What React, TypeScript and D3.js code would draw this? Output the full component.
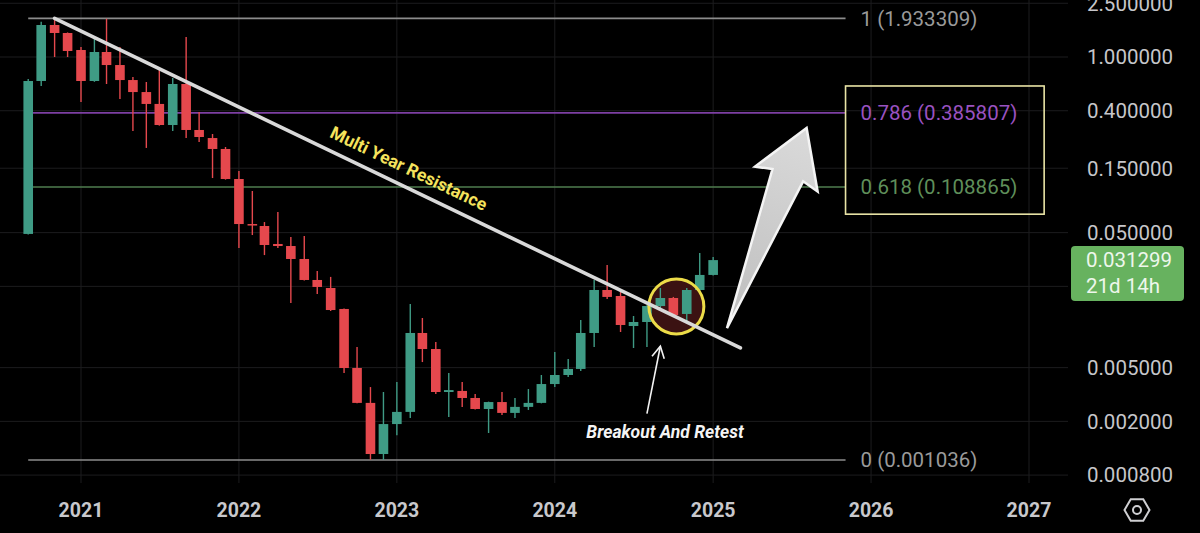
import React from 'react';
import * as d3 from 'd3';

const width = 1200;
const height = 533;

// monthly candles, Sep 2020 .. Jan 2025
const months = [
  '2020-09', '2020-10', '2020-11', '2020-12',
  '2021-01', '2021-02', '2021-03', '2021-04', '2021-05', '2021-06', '2021-07', '2021-08', '2021-09', '2021-10', '2021-11', '2021-12',
  '2022-01', '2022-02', '2022-03', '2022-04', '2022-05', '2022-06', '2022-07', '2022-08', '2022-09', '2022-10', '2022-11', '2022-12',
  '2023-01', '2023-02', '2023-03', '2023-04', '2023-05', '2023-06', '2023-07', '2023-08', '2023-09', '2023-10', '2023-11', '2023-12',
  '2024-01', '2024-02', '2024-03', '2024-04', '2024-05', '2024-06', '2024-07', '2024-08', '2024-09', '2024-10', '2024-11', '2024-12',
  '2025-01',
];
const open = [
  0.0489, 0.664, 1.726, 1.506,
  1.127, 0.664, 1.089, 0.872, 0.675, 0.55, 0.449, 0.3135, 0.631, 0.288, 0.251, 0.2083,
  0.1248, 0.0579, 0.056, 0.0412, 0.0398, 0.0319, 0.0223, 0.01945, 0.0136, 0.00497, 0.00274, 0.001146,
  0.00191, 0.00235, 0.00903, 0.00687, 0.0033, 0.00336, 0.00298, 0.00247, 0.00278, 0.00231, 0.00256, 0.00274,
  0.00378, 0.00441, 0.00489, 0.00903, 0.0188, 0.01697, 0.01017, 0.01089, 0.0143, 0.0164, 0.01249, 0.0188,
  0.0243,
];
const high = [
  0.687, 1.826, 1.933309, 1.52,
  1.186, 1.383, 1.92, 1.186, 0.711, 0.653, 0.843, 0.699, 1.406, 0.391, 0.269, 0.2154,
  0.1431, 0.1017, 0.0599, 0.0711, 0.0464, 0.0472, 0.026, 0.0235, 0.0137, 0.00711, 0.00359, 0.0033,
  0.00391, 0.0148, 0.01166, 0.00774, 0.00456, 0.00391, 0.00319, 0.0028, 0.0033, 0.00298, 0.00347, 0.00441,
  0.00653, 0.00579, 0.01127, 0.0223, 0.0288, 0.0191, 0.01206, 0.0145, 0.01945, 0.0167, 0.01945, 0.0353,
  0.033,
];
const low = [
  0.0485, 0.61, 1.0, 1.0,
  0.464, 0.655, 0.631, 0.489, 0.283, 0.212, 0.31, 0.283, 0.251, 0.2346, 0.1269, 0.1235,
  0.0385, 0.048, 0.0341, 0.0385, 0.01506, 0.0221, 0.01756, 0.01314, 0.00456, 0.00272, 0.00104, 0.001036,
  0.00158, 0.00212, 0.0055, 0.00319, 0.00215, 0.00256, 0.00245, 0.00164, 0.00223, 0.00212, 0.00243, 0.00272,
  0.00359, 0.00426, 0.00472, 0.00711, 0.0161, 0.00918, 0.00699, 0.00711, 0.01382, 0.01186, 0.01071, 0.0186,
  0.0241,
];
const close = [
  0.664, 1.726, 1.506, 1.108,
  0.664, 1.089, 0.872, 0.675, 0.55, 0.449, 0.3135, 0.631, 0.288, 0.2555, 0.2083, 0.1248,
  0.0579, 0.057, 0.0405, 0.0398, 0.0319, 0.0223, 0.0198, 0.01336, 0.00497, 0.00274, 0.001146, 0.00191,
  0.00235, 0.00903, 0.00687, 0.0033, 0.00341, 0.00298, 0.00247, 0.00278, 0.00231, 0.00256, 0.00274, 0.00378,
  0.00441, 0.00489, 0.00903, 0.0188, 0.0167, 0.01035, 0.01089, 0.0143, 0.0164, 0.01227, 0.0188, 0.0243,
  0.031299,
];

const priceTicks = [2.5, 1, 0.4, 0.15, 0.05, 0.005, 0.002, 0.0008];
const gridValues = [2.5, 1, 0.4, 0.15, 0.05, 0.02, 0.005, 0.002, 0.0008];
const years = [2021, 2022, 2023, 2024, 2025, 2026, 2027];

const fibLevels = ['1', '0.786', '0.618', '0'];
const fibValues = [1.933309, 0.385807, 0.108865, 0.001036];
const fibColors = ['#8c8c8c', '#7d3fa3', '#4f7c4f', '#8c8c8c'];
const fibTextColors = ['#9a9a9a', '#9a52c0', '#5f8f5a', '#9a9a9a'];

const lastPrice = '0.031299';
const countdown = '21d 14h';

const up = '#3f9b85';
const down = '#e5484d';

const parseMonth = d3.timeParse('%Y-%m');
const candles = months.map((m, i) => ({
  date: parseMonth(m) as Date,
  o: open[i],
  h: high[i],
  l: low[i],
  c: close[i],
}));

const x = d3.scaleTime().domain([new Date(2021, 0, 1), new Date(2027, 0, 1)]).range([81, 1029]);
const y = d3.scaleLog().domain([1, 0.001]).range([57, 462]);

const plotRight = 1068;
const plotBottom = 483;

// annotation anchors (date, price)
const resStart = { date: new Date(2020, 10, 1), v: 1.933309 };
const resEnd = { date: new Date(2025, 2, 5), v: 0.007 };
const fibStart = new Date(2020, 8, 1);
const fibEnd = new Date(2025, 10, 3);
const boxEnd = new Date(2027, 1, 5);
const boxTop = 0.61;
const boxBottom = 0.0685;
const circleAt = { date: new Date(2024, 9, 8), v: 0.0142 };
const arrowTail = { date: new Date(2025, 1, 2), v: 0.0098 };
const arrowTip = { date: new Date(2025, 7, 5), v: 0.298 };
const retestFrom = { date: new Date(2024, 7, 1), v: 0.00228 };
const retestTo = { date: new Date(2024, 8, 1), v: 0.0072 };

const font = 'Roboto, "Noto Sans", sans-serif';

const BigArrow = () => {
  const x0 = x(arrowTail.date), y0 = y(arrowTail.v);
  const x1 = x(arrowTip.date), y1 = y(arrowTip.v);
  const len = Math.hypot(x1 - x0, y1 - y0);
  const ux = (x1 - x0) / len, uy = (y1 - y0) / len;
  const nx = -uy, ny = ux;
  const pt = (a: number, n: number) => [x0 + ux * a * len + nx * n, y0 + uy * a * len + ny * n];
  const pts = [
    pt(0, 0),
    pt(0.764, -16.5),
    pt(0.745, -33.7),
    pt(1, 0),
    pt(0.745, 33.7),
    pt(0.764, 16.5),
  ];
  return (
    <g>
      <defs>
        <linearGradient id="arrowFill" x1={x0} y1={y0} x2={x1} y2={y1} gradientUnits="userSpaceOnUse">
          <stop offset="0" stopColor="#bdbdbd" />
          <stop offset="1" stopColor="#dadada" />
        </linearGradient>
      </defs>
      <polygon
        points={pts.map((p) => p.join(',')).join(' ')}
        fill="url(#arrowFill)"
        stroke="#f4f4f4"
        strokeWidth={2.5}
        strokeLinejoin="miter"
      />
    </g>
  );
};

const App = () => {
  const bodyW = 9.6;
  const rx0 = x(resStart.date), ry0 = y(resStart.v);
  const rx1 = x(resEnd.date), ry1 = y(resEnd.v);
  const angle = (Math.atan2(ry1 - ry0, rx1 - rx0) * 180) / Math.PI;
  const t = 0.505;
  const mx = rx0 + (rx1 - rx0) * t;
  const my = ry0 + (ry1 - ry0) * t;

  const last = candles[candles.length - 1];
  const lastY = y(last.c);

  const ax0 = x(retestFrom.date), ay0 = y(retestFrom.v);
  const ax1 = x(retestTo.date), ay1 = y(retestTo.v);
  const aAng = Math.atan2(ay1 - ay0, ax1 - ax0);
  const barb = (da: number) => [ax1 - 13 * Math.cos(aAng + da), ay1 - 13 * Math.sin(aAng + da)];
  const b1 = barb(0.5), b2 = barb(-0.5);

  return (
    <svg
      width={width}
      height={height}
      style={{ position: 'fixed', left: 0, top: 0, background: '#000', display: 'block' }}
      fontFamily={font}
    >
      <rect width={width} height={height} fill="#000" />

      {/* grid */}
      {gridValues.map((v) => (
        <line key={'h' + v} x1={0} x2={plotRight} y1={y(v)} y2={y(v)} stroke="#1c1c1e" strokeWidth={1} />
      ))}
      {years.map((yr) => (
        <line
          key={'v' + yr}
          x1={x(new Date(yr, 0, 1))}
          x2={x(new Date(yr, 0, 1))}
          y1={0}
          y2={plotBottom}
          stroke="#1c1c1e"
          strokeWidth={1}
        />
      ))}

      {/* fib levels */}
      {fibValues.map((v, i) => (
        <g key={'f' + i}>
          <line
            x1={x(fibStart)}
            x2={x(fibEnd)}
            y1={y(v)}
            y2={y(v)}
            stroke={fibColors[i]}
            strokeWidth={1.6}
          />
          <text
            x={x(fibEnd) + 15}
            y={y(v)}
            dy="0.36em"
            fontSize={20.5}
            fill={fibTextColors[i]}
          >
            {`${fibLevels[i]} (${v.toFixed(6)})`}
          </text>
        </g>
      ))}

      {/* yellow box around targets */}
      <rect
        x={x(fibEnd)}
        y={y(boxTop)}
        width={x(boxEnd) - x(fibEnd)}
        height={y(boxBottom) - y(boxTop)}
        fill="none"
        stroke="#e9e4a6"
        strokeWidth={1.6}
      />

      {/* retest circle background */}
      <circle cx={x(circleAt.date)} cy={y(circleAt.v)} r={27.5} fill="#3b1212" />

      {/* candles */}
      {candles.map((d, i) => {
        const cx = x(d.date);
        const col = d.c >= d.o ? up : down;
        const top = y(Math.max(d.o, d.c));
        const bot = y(Math.min(d.o, d.c));
        return (
          <g key={i}>
            <line x1={cx} x2={cx} y1={y(d.h)} y2={y(d.l)} stroke={col} strokeWidth={1.4} />
            <rect x={cx - bodyW / 2} y={top} width={bodyW} height={Math.max(1.5, bot - top)} fill={col} />
          </g>
        );
      })}

      {/* retest circle outline */}
      <circle cx={x(circleAt.date)} cy={y(circleAt.v)} r={27.5} fill="none" stroke="#ecdc48" strokeWidth={3} />

      {/* resistance line */}
      <line x1={rx0} y1={ry0} x2={rx1} y2={ry1} stroke="#d9d9d9" strokeWidth={3.6} strokeLinecap="round" />
      <text
        transform={`translate(${mx},${my}) rotate(${angle}) translate(0,-12)`}
        textAnchor="middle"
        fontSize={17.5}
        fontWeight="bold"
        fill="#f5e35c"
      >
        Multi Year Resistance
      </text>

      {/* big arrow */}
      <BigArrow />

      {/* breakout arrow */}
      <line x1={ax0} y1={ay0} x2={ax1} y2={ay1} stroke="#f2f2f2" strokeWidth={1.6} />
      <polyline
        points={`${b1[0]},${b1[1]} ${ax1},${ay1} ${b2[0]},${b2[1]}`}
        fill="none"
        stroke="#f2f2f2"
        strokeWidth={1.6}
      />
      <text x={665} y={438} textAnchor="middle" fontSize={17.5} fontWeight="bold" fontStyle="italic" fill="#f4f4f4">
        Breakout And Retest
      </text>

      {/* price axis */}
      {priceTicks.map((v) => (
        <text key={'p' + v} x={1173} y={y(v)} dy="0.36em" textAnchor="end" fontSize={20.5} fill="#c6c6ca">
          {v.toFixed(6)}
        </text>
      ))}

      {/* last price tag */}
      <rect x={1071} y={lastY - 14} width={113} height={55} rx={4} fill="#67b25f" />
      <text x={1086} y={lastY + 7} fontSize={20.5} fill="#eef7ec">
        {lastPrice}
      </text>
      <text x={1086} y={lastY + 33} fontSize={20.5} fill="#eef7ec">
        {countdown}
      </text>

      {/* time axis */}
      {years.map((yr) => (
        <text
          key={'y' + yr}
          x={x(new Date(yr, 0, 1))}
          y={517}
          textAnchor="middle"
          fontSize={19.5}
          fontWeight="bold"
          fill="#c8c8cc"
        >
          {yr}
        </text>
      ))}

      {/* settings icon */}
      <g transform="translate(1137,510)" fill="none" stroke="#cfcfd2" strokeWidth={2}>
        <polygon points={d3.range(6).map((k) => {
          const a = (Math.PI / 3) * k;
          return `${12.5 * Math.cos(a)},${12.5 * Math.sin(a)}`;
        }).join(' ')} />
        <circle r={4} />
      </g>
    </svg>
  );
};

export default App;
